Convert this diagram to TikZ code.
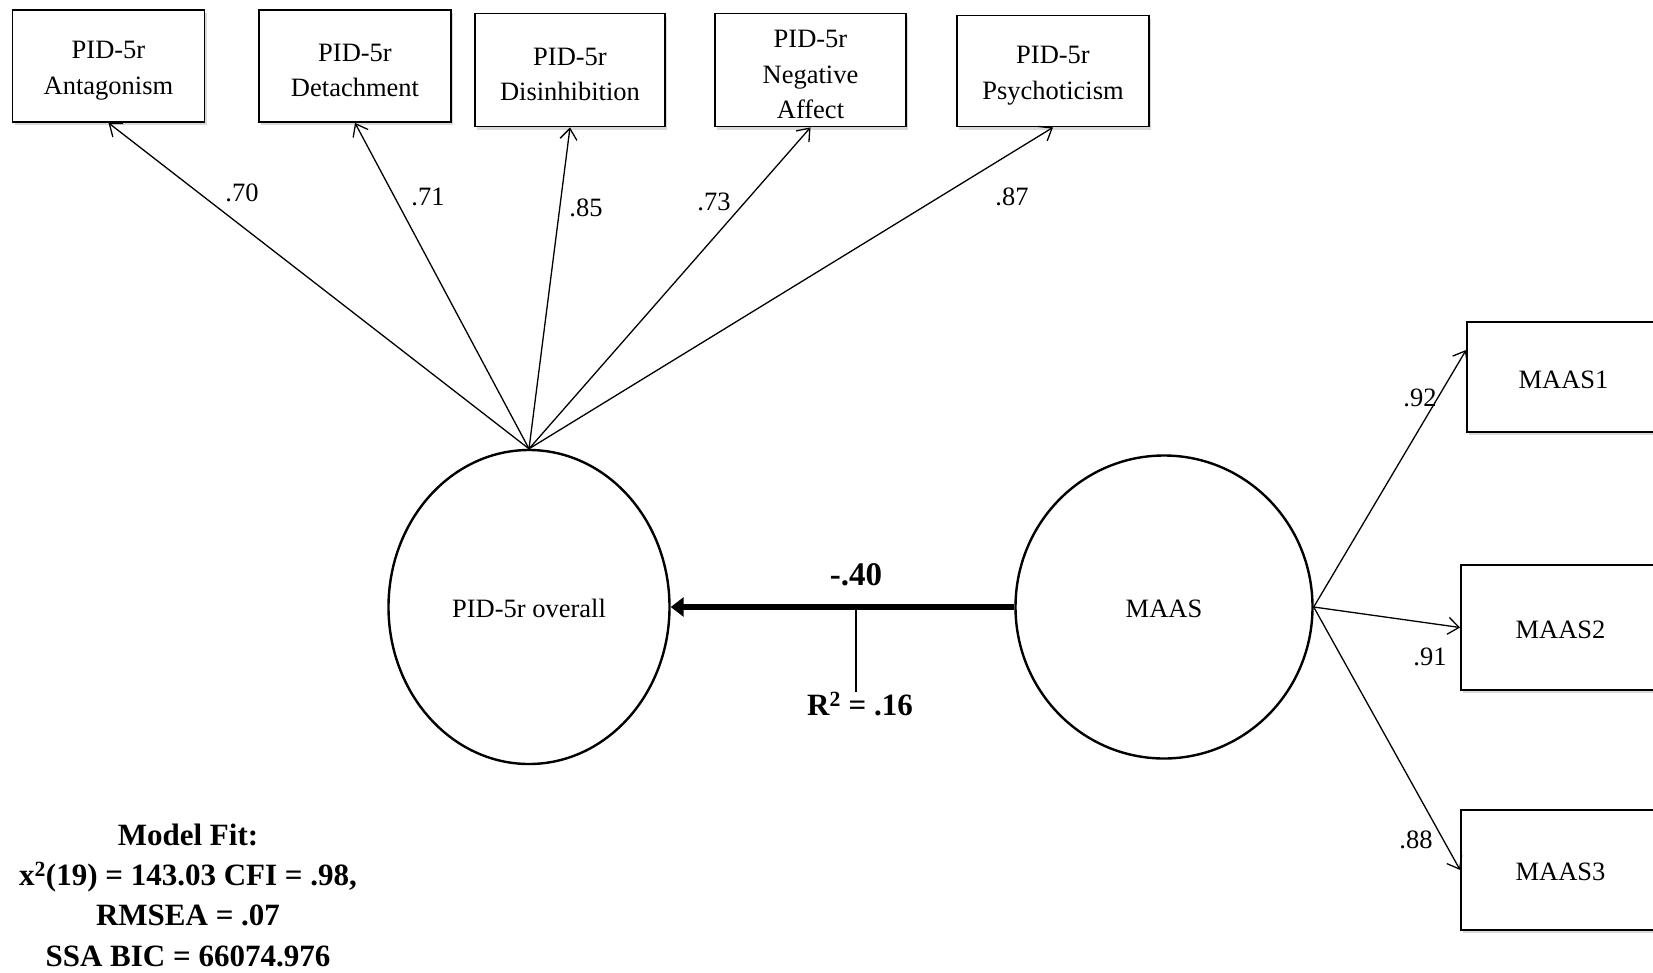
\documentclass[tikz,border=0pt]{standalone}
\usepackage{fontspec}
\setmainfont{Liberation Serif}
\usetikzlibrary{arrows.meta,shapes.geometric,shadows}
\begin{document}
\begin{tikzpicture}[x=1pt,y=-1pt,
  obs/.style={draw,line width=1.8pt,fill=white,inner sep=0pt,
    drop shadow={shadow xshift=2pt,shadow yshift=-3pt,fill=black,opacity=0.15}},
  boxtext/.style={align=center,inner sep=0pt,font=\fontsize{26.5}{35.5}\selectfont},
  lat/.style={draw,ellipse,line width=2.4pt,inner sep=0pt,fill=white,
    font=\fontsize{26.5}{34}\selectfont},
  load/.style={line width=1.3pt,-{Straight Barb[length=11pt,width=17pt,line width=1.3pt]}},
  coef/.style={font=\fontsize{26.5}{32}\selectfont,inner sep=0pt},
  big/.style={font=\bfseries\fontsize{31}{40.3}\selectfont,inner sep=0pt,align=center},
  ]
\useasboundingbox (0,0) rectangle (1653,972);
\clip (0,0) rectangle (1653,972);

% indicator boxes of the personality factor
\node[obs,minimum width=192pt,minimum height=112pt] (ant) at (108.5,66) {};
\node[obs,minimum width=192pt,minimum height=112pt] (det) at (355,66) {};
\node[obs,minimum width=190pt,minimum height=113pt] (dis) at (570,70) {};
\node[obs,minimum width=191pt,minimum height=113pt] (neg) at (810.5,70) {};
\node[obs,minimum width=192pt,minimum height=111pt] (psy) at (1053,71) {};
\node[boxtext] (antt) at ([yshift=-4.5pt]ant.center) {PID-5r\\Antagonism};
\node[boxtext] (dett) at ([yshift=-4.5pt]det.center) {PID-5r\\Detachment};
\node[boxtext] (dist) at ([yshift=-4.5pt]dis.center) {PID-5r\\Disinhibition};
\node[boxtext] (negt) at ([yshift=-4.5pt]neg.center) {PID-5r\\Negative\\Affect};
\node[boxtext] (psyt) at ([yshift=-4.5pt]psy.center) {PID-5r\\Psychoticism};

% indicator boxes of mindfulness
\node[obs,minimum width=193pt,minimum height=110pt] (m1) at (1563.5,377) {};
\node[obs,minimum width=199pt,minimum height=125pt] (m2) at (1560.5,627.5) {};
\node[obs,minimum width=199pt,minimum height=120pt] (m3) at (1560.5,870) {};
\node[boxtext] (m1t) at ([yshift=-3pt]m1.center) {MAAS1};
\node[boxtext] (m2t) at ([yshift=-2pt]m2.center) {MAAS2};
\node[boxtext] (m3t) at ([yshift=-2pt]m3.center) {MAAS3};

% latent variables
\node[lat,minimum width=281pt,minimum height=314pt] (pid) at (529,607) {};
\node[lat,minimum width=297pt,minimum height=303pt] (maas) at (1164,607) {};
\node[boxtext] (pidt) at ([yshift=-1.5pt]pid.center) {PID-5r overall};
\node[boxtext] (maast) at ([yshift=-2pt]maas.center) {MAAS};

% factor loadings
\draw[load] (pid.north) -- (ant.south);
\draw[load] (pid.north) -- (det.south);
\draw[load] (pid.north) -- (dis.south);
\draw[load] (pid.north) -- (neg.south);
\draw[load] (pid.north) -- (psy.south);
\draw[load] (maas.east) -- ([yshift=27pt]m1.west);
\draw[load] (maas.east) -- (m2.west);
\draw[load] (maas.east) -- (m3.west);

\node[coef] (l1) at (242,193) {.70};
\node[coef] (l2) at (428,197) {.71};
\node[coef] (l3) at (586,208) {.85};
\node[coef] (l4) at (714,202) {.73};
\node[coef] (l5) at (1012,197) {.87};
\node[coef] (l6) at (1420,398) {.92};
\node[coef] (l7) at (1430,657) {.91};
\node[coef] (l8) at (1416,840) {.88};

% structural path
\draw[line width=5.5pt,-{Triangle[length=13pt,width=19pt]}] (maas.west) -- coordinate[pos=0.461] (r) (pid.east);
\node[big,font=\bfseries\fontsize{33}{40}\selectfont] (beta) at (856,575) {-.40};
\node[big] (rsq) at (860,704) {R\textsuperscript{2} = .16};
\draw[line width=1.3pt] (r) -- (r |- rsq.north);

% fit statistics
\node[big] (fit) at (188,895) {Model Fit:\\x\textsuperscript{2}(19) = 143.03 CFI = .98,\\RMSEA = .07\\SSA BIC = 66074.976};
\end{tikzpicture}
\end{document}
